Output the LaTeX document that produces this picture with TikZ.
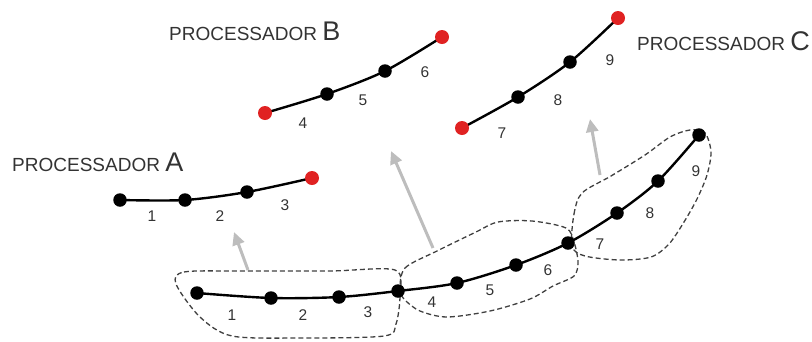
\documentclass[tikz,border=0pt]{standalone}
\usepackage{fontspec}
\setmainfont{Liberation Sans}
\usetikzlibrary{arrows.meta}
\definecolor{dotred}{HTML}{E02222}
\definecolor{txt}{HTML}{333333}
\definecolor{arrgray}{HTML}{BDBDBD}
\definecolor{dashgray}{HTML}{404040}
\tikzset{
  blk/.style={circle,fill=black,minimum size=13.5pt,inner sep=0pt},
  rdd/.style={circle,fill=dotred,minimum size=14pt,inner sep=0pt},
  chain/.style={line width=2.4pt,black},
  region/.style={dashgray,line width=1.3pt,dash pattern=on 5pt off 3pt},
  lbl/.style={text=txt,font=\fontsize{15.5}{15.5}\selectfont,inner sep=0pt},
  proc/.style={text=txt,anchor=base west,inner sep=0pt},
  mig/.style={arrgray,line width=3pt,-{Triangle[length=13pt,width=12pt]}}
}
\begin{document}
\begin{tikzpicture}[x=1pt,y=-1pt]
\useasboundingbox (0,0) rectangle (812,341);
% ---- bottom chain coordinates
\coordinate (b0) at (197,293);
\coordinate (b1) at (271,298);
\coordinate (b2) at (339,297);
\coordinate (b3) at (398,291);
\coordinate (b4) at (457,283);
\coordinate (b5) at (516,265);
\coordinate (b6) at (568,243);
\coordinate (b7) at (617,213);
\coordinate (b8) at (658,181);
\coordinate (b9) at (699,135);
% ---- dashed regions
\draw[region] plot[smooth cycle,tension=0.5] coordinates {(176,284) (184,272) (240,271) (330,271) (395,270) (400,295) (396,324) (384,336) (300,338) (232,336) (200,317)};
\draw[region] plot[smooth cycle,tension=0.5] coordinates {(400,290) (405,268) (437,251) (476,232) (498,222) (532,221) (566,228) (574,242) (578,262) (574,276) (553,286) (530,299) (490,311) (447,317) (420,311) (405,300)};
\draw[region] plot[smooth cycle,tension=0.5] coordinates {(572,246) (574,214) (582,193) (611,176) (645,155) (670,137) (690,130) (705,133) (711,152) (707,175) (697,199) (684,222) (669,244) (651,257) (620,260) (585,256)};
% ---- bottom chain
\draw[chain] plot[smooth] coordinates {(b0) (b1) (b2) (b3) (b4) (b5) (b6) (b7) (b8) (b9)};
\foreach \n in {b0,b1,b2,b3,b4,b5,b6,b7,b8,b9} \node[blk] at (\n) {};
\node[lbl] (l1) at (232,315) {1};
\node[lbl] (l2) at (303,315) {2};
\node[lbl] (l3) at (368,312) {3};
\node[lbl] (l4) at (432,302) {4};
\node[lbl] (l5) at (490,290) {5};
\node[lbl] (l6) at (548,270) {6};
\node[lbl] (l7) at (600,244) {7};
\node[lbl] (l8) at (650,213) {8};
\node[lbl] (l9) at (696,171) {9};
% ---- processor A
\coordinate (a0) at (120,200);
\coordinate (a1) at (185,200);
\coordinate (a2) at (247,192);
\coordinate (a3) at (312,178);
\draw[chain] plot[smooth] coordinates {(a0) (a1) (a2) (a3)};
\node[blk] at (a0) {};
\node[blk] at (a1) {};
\node[blk] at (a2) {};
\node[rdd] at (a3) {};
\node[lbl] (la1) at (152,216) {1};
\node[lbl] (la2) at (220,216) {2};
\node[lbl] (la3) at (285,205) {3};
\node[proc] (pA) at (12,171) {\fontsize{19}{19}\selectfont PROCESSADOR \fontsize{27}{27}\selectfont A};
% ---- processor B
\coordinate (c0) at (265,113);
\coordinate (c1) at (327,94);
\coordinate (c2) at (385,71);
\coordinate (c3) at (442,37);
\draw[chain] plot[smooth] coordinates {(c0) (c1) (c2) (c3)};
\node[rdd] at (c0) {};
\node[blk] at (c1) {};
\node[blk] at (c2) {};
\node[rdd] at (c3) {};
\node[lbl] (lb4) at (303,123) {4};
\node[lbl] (lb5) at (363,100) {5};
\node[lbl] (lb6) at (425,72) {6};
\node[proc] (pB) at (169,40) {\fontsize{19}{19}\selectfont PROCESSADOR \fontsize{27}{27}\selectfont B};
% ---- processor C
\coordinate (d0) at (462,128);
\coordinate (d1) at (518,97);
\coordinate (d2) at (570,62);
\coordinate (d3) at (618,18);
\draw[chain] plot[smooth] coordinates {(d0) (d1) (d2) (d3)};
\node[rdd] at (d0) {};
\node[blk] at (d1) {};
\node[blk] at (d2) {};
\node[rdd] at (d3) {};
\node[lbl] (lc7) at (502,133) {7};
\node[lbl] (lc8) at (558,100) {8};
\node[lbl] (lc9) at (610,60) {9};
\node[proc] (pC) at (637,50) {\fontsize{19}{19}\selectfont PROCESSADOR \fontsize{27}{27}\selectfont C};
% ---- migration arrows
\coordinate (mA0) at (248,270);
\coordinate (mA1) at (234,232);
\coordinate (mB0) at (433,248);
\coordinate (mB1) at (391,151);
\coordinate (mC0) at (600,175);
\coordinate (mC1) at (590,119);
\draw[mig] (mA0) -- (mA1);
\draw[mig] (mB0) -- (mB1);
\draw[mig] (mC0) -- (mC1);
\end{tikzpicture}
\end{document}
